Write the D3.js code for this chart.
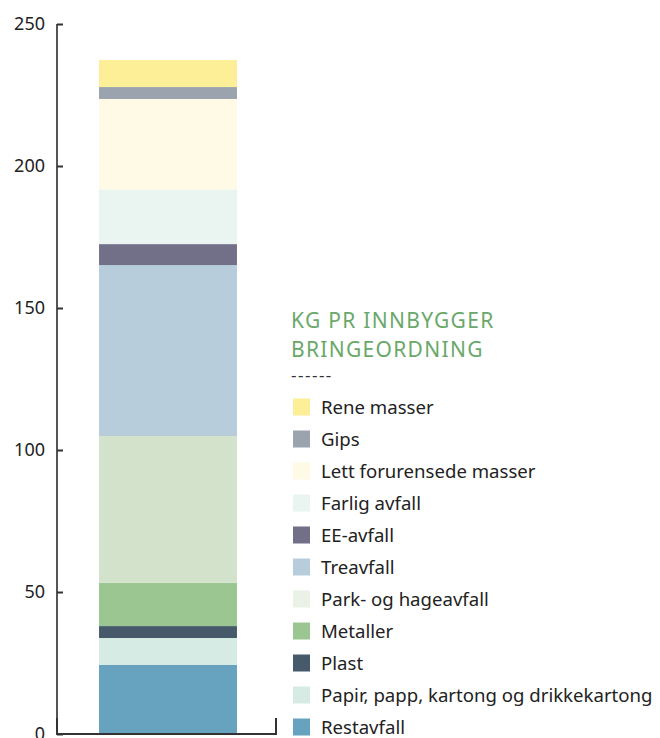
<!DOCTYPE html>
<html>
<head>
<meta charset="utf-8">
<script src="https://cdn.jsdelivr.net/npm/d3@7"></script>
<style>
  body { margin: 0; background: #fff; }
  text { font-family: "Noto Sans", sans-serif; }
</style>
</head>
<body>
<div id="chart"></div>
<script>
// bottom to top
const categories = ["Restavfall", "Papir, papp, kartong og drikkekartong", "Plast", "Metaller",
    "Park- og hageavfall", "Treavfall", "EE-avfall", "Farlig avfall",
    "Lett forurensede masser", "Gips", "Rene masser"]
const values = [24.3, 9.5, 4.2, 15.2, 51.7, 60.2, 7.4, 19.2, 31.9, 4.2, 9.5]
const colors = ["#67a2bf", "#d6ebe4", "#475a6b", "#9bc691", "#d3e3cb", "#b7cddc",
    "#726f88", "#eaf4f0", "#fefae6", "#9aa3ae", "#fdee98"]
// legend swatches (park swatch is paler than its bar segment)
const legendColors = ["#67a2bf", "#d6ebe4", "#475a6b", "#9bc691", "#eaf2e7", "#b7cddc",
    "#726f88", "#eaf4f0", "#fefae6", "#9aa3ae", "#fdee98"]
const yTicks = [0, 50, 100, 150, 200, 250]
const titleLines = ["KG PR INNBYGGER", "BRINGEORDNING"]

const width = 660, height = 738

const svg = d3.select("#chart").append("svg")
    .attr("width", width).attr("height", height)

const y = d3.scaleLinear().domain([0, 250]).range([734, 24])
const x = d3.scaleBand().domain(["bar"]).range([60, 276]).paddingInner(0).paddingOuter(0.283)

// stack
let acc = 0
const segs = values.map((v, i) => {
    const s = { name: categories[i], y0: acc, y1: acc + v, color: colors[i], lcolor: legendColors[i] }
    acc += v
    return s
})

svg.append("g").selectAll("rect")
    .data(segs)
    .enter().append("rect")
    .attr("x", x("bar"))
    .attr("width", x.bandwidth())
    .attr("y", d => y(d.y1))
    .attr("height", d => y(d.y0) - y(d.y1))
    .attr("fill", d => d.color)

// y axis, ticks pointing inwards
const yAxis = svg.append("g")
    .attr("transform", "translate(57,0)")
    .call(d3.axisLeft(y).tickValues(yTicks).tickSize(-6).tickPadding(12))
yAxis.select(".domain").attr("stroke", "#555").attr("stroke-width", 2)
    .attr("d", `M0,${y(250)}V${y(0)}`)
yAxis.selectAll(".tick line").attr("stroke", "#333").attr("stroke-width", 2)
yAxis.selectAll(".tick text").style("font-size", "18px").attr("fill", "#222")

// bottom axis line with end ticks
svg.append("path")
    .attr("d", `M57,718V${y(0)}H276V718`)
    .attr("fill", "none").attr("stroke", "#333").attr("stroke-width", 2)

// legend
const lg = svg.append("g").attr("transform", "translate(291,0)")
lg.selectAll("text.title")
    .data(titleLines)
    .enter().append("text")
    .attr("class", "title")
    .attr("x", 0).attr("y", (d, i) => 328 + i * 29)
    .style("font-size", "21px").style("letter-spacing", "1.3px").attr("fill", "#6aa86a")
    .text(d => d)
lg.append("text")
    .attr("x", 0).attr("y", 381)
    .style("font-size", "17px").style("letter-spacing", "1.5px").attr("fill", "#333")
    .text("------")

const legendItems = segs.slice().reverse()
const items = lg.selectAll("g.item")
    .data(legendItems)
    .enter().append("g")
    .attr("class", "item")
    .attr("transform", (d, i) => `translate(0,${407 + i * 32})`)
items.append("rect")
    .attr("x", 2).attr("y", -8.5).attr("width", 17).attr("height", 17)
    .attr("fill", d => d.lcolor)
items.append("text")
    .attr("x", 30).attr("y", 0).attr("dy", "0.35em")
    .style("font-size", "18.6px").attr("fill", "#222")
    .text(d => d.name)
</script>
</body>
</html>
